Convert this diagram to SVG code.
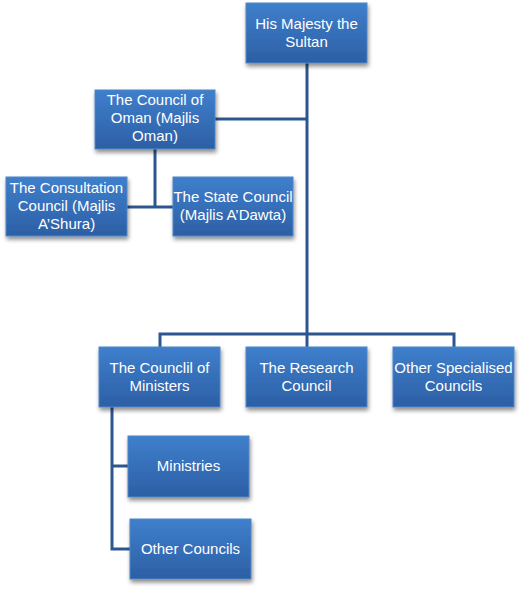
<svg xmlns="http://www.w3.org/2000/svg" width="520" height="594" viewBox="0 0 520 594">
<defs>
<linearGradient id="g" x1="0" y1="0" x2="0" y2="1">
<stop offset="0" stop-color="#3f7fcc"/>
<stop offset="1" stop-color="#2c5fa5"/>
</linearGradient>
<filter id="sh" x="-10%" y="-10%" width="125%" height="135%">
<feGaussianBlur in="SourceAlpha" stdDeviation="2"/>
<feOffset dx="1" dy="3" result="b"/>
<feComponentTransfer><feFuncA type="linear" slope="0.45"/></feComponentTransfer>
<feMerge><feMergeNode/><feMergeNode in="SourceGraphic"/></feMerge>
</filter>
</defs>
<style>
.box{fill:url(#g);stroke:#4f86c8;stroke-width:1;filter:url(#sh)}
.t{font-family:"Liberation Sans",Arial,sans-serif;font-size:15px;fill:#ffffff;text-anchor:middle}
.c{fill:none;stroke:#2b5690;stroke-width:3}
</style>
<rect width="520" height="594" fill="#ffffff"/>
<g id="connectors">
<path class="c" d="M307 63V334"/>
<path class="c" d="M215 119H307"/>
<path class="c" d="M155 149V207"/>
<path class="c" d="M127 207H173"/>
<path class="c" d="M160 347V334H454V347"/>
<path class="c" d="M307 334V347"/>
<path class="c" d="M112 407V549H130"/>
<path class="c" d="M112 466H128"/>
</g>
<g id="sultan">
<rect class="box" x="246" y="3" width="121" height="60"/>
<text class="t" x="306.5" y="29">His Majesty the</text>
<text class="t" x="306.5" y="47">Sultan</text>
</g>
<g id="council-oman">
<rect class="box" x="95" y="90" width="120" height="59"/>
<text class="t" x="155" y="105">The Council of</text>
<text class="t" x="155" y="123">Oman (Majlis</text>
<text class="t" x="155" y="141">Oman)</text>
</g>
<g id="consultation-council">
<rect class="box" x="6" y="177" width="121" height="59"/>
<text class="t" x="66.5" y="193">The Consultation</text>
<text class="t" x="66.5" y="211">Council (Majlis</text>
<text class="t" x="66.5" y="229">A’Shura)</text>
</g>
<g id="state-council">
<rect class="box" x="173" y="177" width="120" height="59"/>
<text class="t" x="233" y="202">The State Council</text>
<text class="t" x="233" y="220">(Majlis A’Dawta)</text>
</g>
<g id="council-ministers">
<rect class="box" x="99" y="347" width="121" height="60"/>
<text class="t" x="159.5" y="373">The Counclil of</text>
<text class="t" x="159.5" y="391">Ministers</text>
</g>
<g id="research-council">
<rect class="box" x="246" y="347" width="121" height="60"/>
<text class="t" x="306.5" y="373">The Research</text>
<text class="t" x="306.5" y="391">Council</text>
</g>
<g id="other-specialised">
<rect class="box" x="393" y="347" width="121" height="60"/>
<text class="t" x="453.5" y="373">Other Specialised</text>
<text class="t" x="453.5" y="391">Councils</text>
</g>
<g id="ministries">
<rect class="box" x="128" y="436" width="121" height="61"/>
<text class="t" x="188.5" y="471">Ministries</text>
</g>
<g id="other-councils">
<rect class="box" x="130" y="519" width="121" height="60"/>
<text class="t" x="190.5" y="554">Other Councils</text>
</g>
</svg>
